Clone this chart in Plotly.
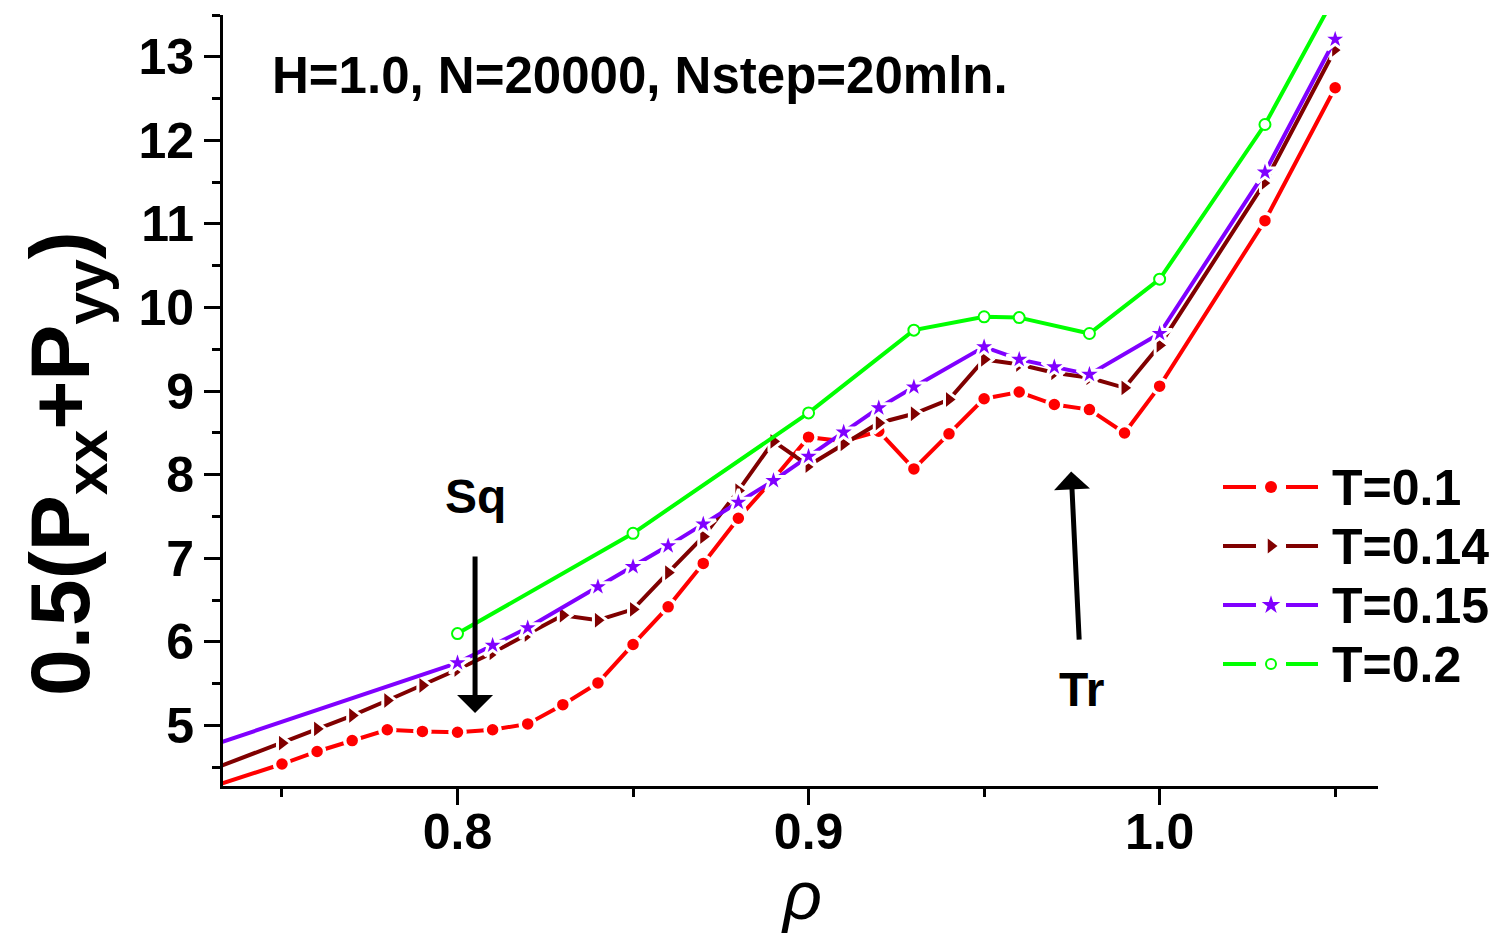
import plotly.graph_objects as go

# ---- data ----
rho_t01 = [0.70, 0.75, 0.76, 0.77, 0.78, 0.79, 0.80, 0.81, 0.82, 0.83, 0.84, 0.85, 0.86,
           0.87, 0.88, 0.89, 0.90, 0.91, 0.92, 0.93, 0.94, 0.95, 0.96, 0.97, 0.98, 0.99,
           1.00, 1.03, 1.05]
p_t01 = [3.86, 4.54, 4.69, 4.82, 4.95, 4.93, 4.92, 4.95, 5.02, 5.25, 5.51, 5.97, 6.42,
         6.94, 7.48, 7.95, 8.45, 8.40, 8.52, 8.07, 8.49, 8.91, 8.99, 8.84, 8.78, 8.50,
         9.06, 11.04, 12.63]

rho_t014 = [0.70, 0.75, 0.76, 0.77, 0.78, 0.79, 0.80, 0.81, 0.82, 0.83, 0.84, 0.85, 0.86,
            0.87, 0.88, 0.89, 0.90, 0.91, 0.92, 0.93, 0.94, 0.95, 0.96, 0.97, 0.98, 0.99,
            1.00, 1.03, 1.05]
p_t014 = [3.99, 4.79, 4.96, 5.12, 5.30, 5.48, 5.67, 5.87, 6.09, 6.32, 6.26, 6.39, 6.83,
          7.26, 7.81, 8.40, 8.11, 8.37, 8.62, 8.73, 8.90, 9.38, 9.32, 9.22, 9.16, 9.04,
          9.55, 11.50, 13.09]

rho_t015 = [0.70, 0.80, 0.81, 0.82, 0.84, 0.85, 0.86, 0.87, 0.88, 0.89, 0.90, 0.91, 0.92,
            0.93, 0.95, 0.96, 0.97, 0.98, 1.00, 1.03, 1.05]
p_t015 = [4.34, 5.75, 5.96, 6.17, 6.66, 6.90, 7.15, 7.41, 7.67, 7.93, 8.22, 8.51, 8.80,
          9.05, 9.53, 9.38, 9.29, 9.20, 9.69, 11.62, 13.21]

rho_t02 = [0.80, 0.85, 0.90, 0.93, 0.95, 0.96, 0.98, 1.00, 1.03, 1.05]
p_t02 = [6.10, 7.30, 8.74, 9.73, 9.89, 9.88, 9.69, 10.34, 12.19, 13.73]

series_names = ["T=0.1", "T=0.14", "T=0.15", "T=0.2"]
x_tick_vals = [0.8, 0.9, 1.0]
x_tick_text = ["0.8", "0.9", "1.0"]

FONT = "Liberation Sans"
W, H = 1497, 936
ML, MR, MT, MB = 223, 119, 15, 150
PW, PH = W - ML - MR, H - MT - MB


def px_x(p):
    return (p - ML) / PW


def px_y(p):
    return (H - MB - p) / PH


styles = [
    dict(color="#FF0000", symbol="circle", size=15, mcolor="#FF0000", mline="white", mlw=3.5,
         lsize=12, lmcolor="#FF0000", lmline="#FF0000", llw=0),
    dict(color="#800000", symbol="triangle-right", size=18, mcolor="#800000", mline="white", mlw=3,
         lsize=13, lmcolor="#800000", lmline="#800000", llw=0),
    dict(color="#8000FF", symbol="star", size=19, mcolor="#8000FF", mline="white", mlw=3,
         lsize=14, lmcolor="#8000FF", lmline="#8000FF", llw=0),
    dict(color="#00FF00", symbol="circle", size=11, mcolor="white", mline="#00FF00", mlw=2,
         lsize=10, lmcolor="white", lmline="#00FF00", llw=2),
]
xs = [rho_t01, rho_t014, rho_t015, rho_t02]
ys = [p_t01, p_t014, p_t015, p_t02]

fig = go.Figure()
for name, x, y, s in zip(series_names, xs, ys, styles):
    fig.add_trace(go.Scatter(
        x=x, y=y, name=name, mode="lines+markers", showlegend=False,
        line=dict(color=s["color"], width=4),
        marker=dict(symbol=s["symbol"], size=s["size"], color=s["mcolor"],
                    line=dict(color=s["mline"], width=s["mlw"])),
    ))

# ---- hand-drawn legend (line samples with a gap round the marker) ----
leg_y = [487, 546, 605, 664]
shapes = []
annotations = []
for name, s, yy in zip(series_names, styles, leg_y):
    for x0, x1 in [(1223, 1256), (1286, 1318)]:
        shapes.append(dict(type="line", xref="paper", yref="paper",
                           x0=px_x(x0), x1=px_x(x1), y0=px_y(yy), y1=px_y(yy),
                           line=dict(color=s["color"], width=4)))
    fig.add_trace(go.Scatter(
        x=[px_x(1271)], y=[px_y(yy)], xaxis="x2", yaxis="y2", mode="markers",
        showlegend=False, cliponaxis=False, hoverinfo="skip",
        marker=dict(symbol=s["symbol"], size=s["lsize"], color=s["lmcolor"],
                    line=dict(color=s["lmline"], width=s["llw"])),
    ))
    annotations.append(dict(text=name, xref="paper", yref="paper",
                            x=px_x(1330), y=px_y(yy + 1), xanchor="left", yanchor="middle",
                            showarrow=False,
                            font=dict(family=FONT, size=50, color="black", weight="bold")))

axis_font = dict(family=FONT, size=50, color="black", weight="bold")

fig.update_xaxes(
    range=[0.7332, 1.0622],
    tickmode="array", tickvals=x_tick_vals, ticktext=x_tick_text,
    ticks="outside", ticklen=16, tickwidth=3, tickcolor="black",
    ticklabelstandoff=-16,
    minor=dict(tickmode="linear", tick0=0.75, dtick=0.1, ticks="outside",
               ticklen=8, tickwidth=3, tickcolor="black", showgrid=False),
    showline=True, linewidth=3, linecolor="black", mirror=False,
    showgrid=False, zeroline=False,
    tickfont=axis_font,
)
fig.update_yaxes(
    range=[4.277, 13.5],
    tickmode="linear", tick0=5, dtick=1,
    ticks="outside", ticklen=16, tickwidth=3, tickcolor="black",
    minor=dict(tickmode="linear", tick0=4.5, dtick=1, ticks="outside",
               ticklen=8, tickwidth=3, tickcolor="black", showgrid=False),
    showline=True, linewidth=3, linecolor="black", mirror=False,
    showgrid=False, zeroline=False,
    tickfont=axis_font,
)

annotations += [
    dict(text="0.5(P<sub>xx</sub>+P<sub>yy</sub>)", xref="paper", yref="paper",
         x=px_x(66), y=px_y(464), xanchor="center", yanchor="middle", textangle=-90,
         showarrow=False, font=dict(family=FONT, size=84, color="black", weight="bold")),
    dict(text="<i>ρ</i>", xref="paper", yref="paper",
         x=px_x(802), y=px_y(895), xanchor="center", yanchor="middle", showarrow=False,
         font=dict(family=FONT, size=68, color="black")),
    dict(text="H=1.0, N=20000, Nstep=20mln.", xref="x", yref="y",
         x=0.7467, y=12.78, xanchor="left", yanchor="middle", showarrow=False,
         font=dict(family=FONT, size=51, color="black", weight="bold")),
    dict(text="Sq", xref="x", yref="y", x=0.805, y=7.74, showarrow=False,
         xanchor="center", yanchor="middle",
         font=dict(family=FONT, size=48, color="black", weight="bold")),
    dict(text="Tr", xref="x", yref="y", x=0.9778, y=5.43, showarrow=False,
         xanchor="center", yanchor="middle",
         font=dict(family=FONT, size=48, color="black", weight="bold")),
    dict(text="", xref="x", yref="y", x=0.805, y=5.15, axref="x", ayref="y",
         ax=0.805, ay=7.04, showarrow=True, arrowhead=1, arrowsize=1.2,
         arrowwidth=5, arrowcolor="black", standoff=0),
    dict(text="", xref="x", yref="y", x=0.9748, y=8.04, axref="x", ayref="y",
         ax=0.9771, ay=6.01, showarrow=True, arrowhead=1, arrowsize=1.2,
         arrowwidth=5, arrowcolor="black", standoff=0),
]

fig.update_layout(
    width=W, height=H,
    margin=dict(l=ML, r=MR, t=MT, b=MB, autoexpand=False),
    paper_bgcolor="white", plot_bgcolor="white",
    showlegend=False,
    xaxis2=dict(overlaying="x", range=[0, 1], visible=False, fixedrange=True),
    yaxis2=dict(overlaying="y", range=[0, 1], visible=False, fixedrange=True),
    shapes=shapes,
    annotations=annotations,
)

fig.write_html("out.html", config={"displayModeBar": False},
               post_script="document.body.style.margin='0';document.body.style.padding='0';")
